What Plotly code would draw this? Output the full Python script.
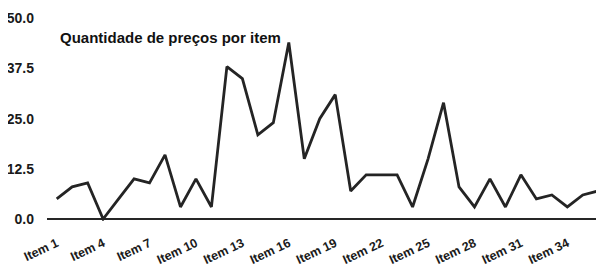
import plotly.graph_objects as go

categories = [f"Item {i}" for i in range(1, 37)]
precos = [5, 8, 9, 0, 5, 10, 9, 16, 3, 10, 3, 38, 35, 21, 24, 44, 15, 25, 31,
          7, 11, 11, 11, 3, 15, 29, 8, 3, 10, 3, 11, 5, 6, 3, 6, 7]
y_ticks = [0, 12.5, 25, 37.5, 50]
y_ticklabels = ["0.0", "12.5", "25.0", "37.5", "50.0"]
title_text = "Quantidade de preços por item"

fig = go.Figure()
fig.add_trace(go.Scatter(
    x=categories, y=precos, mode="lines",
    line=dict(color="#242424", width=2.8),
    hoverinfo="skip", showlegend=False,
))

font_family = "Liberation Sans, Arial, sans-serif"
W, H = 604, 268
# the page body adds an 8px offset, compensated in the margins
off = 8

fig.update_layout(
    width=W, height=H,
    margin=dict(l=47 - off, r=off, t=16 - off, b=H - 221 + off, autoexpand=False),
    paper_bgcolor="white", plot_bgcolor="white",
    font=dict(family=font_family, color="#1a1a1a"),
    title=dict(
        text="<b>" + title_text + "</b>",
        x=(60 - off) / W, xanchor="left", xref="container",
        y=1 - (38 - off) / H, yanchor="middle",
        pad=dict(l=0, r=0, t=0, b=0),
        font=dict(size=15, family=font_family, color="#111111"),
    ),
    xaxis=dict(
        type="category",
        range=[-0.627, 35.37],
        tickmode="array",
        tickvals=categories[::3],
        ticktext=["<b>" + c + "</b>" for c in categories[::3]],
        tickangle=-25,
        tickfont=dict(size=12.5, family=font_family, color="#1a1a1a"),
        showgrid=False, showline=False, zeroline=False, ticks="",
        automargin=False, ticklabelstandoff=12,
    ),
    yaxis=dict(
        range=[-0.5, 50.6],
        tickmode="array",
        tickvals=y_ticks,
        ticktext=["<b>" + t + "</b>" for t in y_ticklabels],
        tickfont=dict(size=14, family=font_family, color="#1a1a1a"),
        showgrid=False, showline=False,
        zeroline=True, zerolinecolor="#262626", zerolinewidth=2.2,
        ticks="", ticklabelstandoff=12, automargin=False,
    ),
)

fig.write_html("out.html")
